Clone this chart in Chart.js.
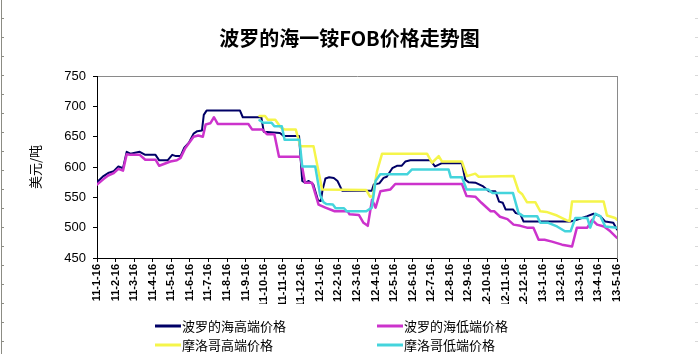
<!DOCTYPE html>
<html>
<head>
<meta charset="utf-8">
<script src="https://cdn.jsdelivr.net/npm/chart.js@4.4.1/dist/chart.umd.min.js"></script>
<style>
  html, body { margin: 0; padding: 0; background: #fff; }
  canvas { display: block; }
</style>
</head>
<body>
<canvas id="c" width="699" height="361"></canvas>
<script>
// ---- Data (x = month index from 11-1-16, y = USD/t) ----
const monthLabels = [
  '11-1-16','11-2-16','11-3-16','11-4-16','11-5-16','11-6-16','11-7-16','11-8-16','11-9-16','11-10-16','11-11-16','11-12-16',
  '12-1-16','12-2-16','12-3-16','12-4-16','12-5-16','12-6-16','12-7-16','12-8-16','12-9-16','12-10-16','12-11-16','12-12-16',
  '13-1-16','13-2-16','13-3-16','13-4-16','13-5-16'
];
const seriesNames = ['波罗的海高端价格', '波罗的海低端价格', '摩洛哥高端价格', '摩洛哥低端价格'];

const balticHigh = [
  [0,575],[0.35,585],[0.6,590],[0.9,593],[1.15,601],[1.4,598],[1.6,625],[1.8,622],[2.3,625],[2.6,620],
  [3.15,620],[3.35,611],[3.8,611],[4.05,620],[4.25,618],[4.5,618],[4.7,632],[4.95,640],[5.2,655],[5.4,659],
  [5.65,660],[5.75,686],[5.9,693],[7.7,693],[7.85,682],[8.85,682],[8.98,658],[9.85,656],[10.05,651],[10.88,651],
  [11.05,577],[11.2,574],[11.4,577],[11.65,571],[11.9,545],[12.05,544],[12.15,563],[12.3,581],[12.5,583],[12.75,582],[12.95,577],
  [13.2,561],[14.8,561],[14.9,571],[15.2,573],[15.43,582],[15.6,584],[15.9,598],[16.15,602],[16.4,602],[16.6,609],
  [16.87,611],[17.95,611],[18.2,601],[18.55,606],[19.65,606],[19.83,579],[20.0,575],[20.4,574],[20.8,568],[21.1,560],
  [21.45,560],[21.65,543],[21.85,541],[22.0,530],[22.4,530],[22.55,524],[22.8,522],[22.97,510],[25.48,510],[25.84,513],
  [26.4,519],[26.74,523],[27.1,519],[27.37,510],[27.8,508],[28,497]
];
const balticLow = [
  [0,571],[0.35,580],[0.6,586],[0.9,590],[1.15,597],[1.4,594],[1.6,621],[1.8,620],[2.3,620],[2.6,612],
  [3.15,612],[3.35,602],[3.6,605],[3.95,609],[4.3,611],[4.5,615],[4.75,631],[5.2,650],[5.45,652],[5.7,650],
  [5.85,670],[6.1,672],[6.3,682],[6.5,671],[8.15,671],[8.35,662],[8.9,662],[9.15,654],[9.55,654],[9.8,617],
  [10.95,617],[11.2,574],[11.58,574],[11.93,538],[12.3,533],[12.8,527],[13.5,527],[13.6,522],[14.1,521],[14.35,508],
  [14.58,503],[14.81,546],[15.0,533],[15.26,560],[15.8,563],[16.06,572],[19.65,572],[19.9,552],[20.37,551],[20.7,541],
  [21.2,527],[21.4,527],[21.7,518],[22.1,514],[22.43,505],[22.8,503],[23.15,500],[23.5,500],[23.78,480],[24.1,480],
  [24.5,477],[25.04,472],[25.58,469],[25.84,500],[26.4,500],[26.66,513],[26.93,505],[27.3,502],[27.64,494],[28,483]
];
const moroccoHigh = [
  [8.75,684],[9.05,684],[9.2,678],[9.6,678],[9.9,665],[10.1,662],[10.7,662],[10.95,634],[11.66,634],[12.12,563],
  [14.5,562],[14.7,551],[14.85,552],[15.08,593],[15.35,622],[17.77,622],[18.04,607],[18.4,618],[18.58,609],[19.65,609],
  [19.92,585],[20.37,589],[20.55,584],[22.43,585],[22.7,560],[22.9,555],[23.15,542],[23.6,542],[23.87,527],[24.2,526],
  [24.77,520],[25.3,512],[25.45,511],[25.58,543],[27.28,543],[27.46,520],[27.9,516],[28,513]
];
const moroccoLow = [
  [8.75,677],[8.95,673],[9.4,673],[9.55,667],[9.95,667],[10.1,645],[10.9,645],[11.05,601],[11.75,601],[12.02,553],
  [12.2,542],[12.35,539],[12.7,538],[12.85,532],[13.3,532],[13.45,527],[14.5,527],[14.8,533],[15.0,577],[15.25,588],
  [16.7,588],[16.96,596],[18.93,596],[19.05,583],[19.65,583],[19.9,563],[21.07,563],[21.3,557],[22.4,557],[22.7,524],
  [22.95,519],[23.7,519],[23.87,508],[24.3,508],[24.77,502],[25.2,494],[25.5,494],[25.76,516],[26.4,516],[26.56,500],
  [26.83,523],[27.1,519],[27.37,502],[28,500]
];

// ---- Styling ----
const CJK = '"Noto Sans CJK SC", "Noto Sans", sans-serif';
const LAT = '"Liberation Sans", Arial, sans-serif';
const colors = ['#000066', '#cc33cc', '#f5f54a', '#44d4dc'];
const widths = [2, 2.5, 2.5, 2.5];
const LABEL_CLIP_Y = 304;

const toPts = arr => arr.map(p => ({ x: p[0], y: p[1] }));
const allSeries = [balticHigh, balticLow, moroccoHigh, moroccoLow];

const frameDeco = {
  id: 'frameDeco',
  beforeDraw(chart) {
    const c = chart.ctx;
    c.save();
    c.fillStyle = '#ffffff';
    c.fillRect(0, 0, chart.width, chart.height);
    c.strokeStyle = '#8c8c84';
    c.lineWidth = 1;
    c.beginPath();
    c.moveTo(1.5, 0); c.lineTo(1.5, 354);
    for (let k = 0; k < 18; k++) {
      const y = 18.5 + 19 * k;
      c.moveTo(1.5, y); c.lineTo(4, y);
    }
    c.stroke();
    c.strokeStyle = '#d8d8d8';
    c.beginPath();
    for (let k = 0; k < 18; k++) {
      const y = 18.5 + 19 * k;
      c.moveTo(695, y); c.lineTo(698, y);
    }
    c.stroke();
    c.restore();
  },
  afterDatasetsDraw(chart) {
    const c = chart.ctx;
    c.save();
    c.beginPath();
    c.rect(0, 0, chart.width, LABEL_CLIP_Y);
    c.clip();
  },
  afterDraw(chart) {
    const c = chart.ctx;
    c.restore();
    // legend in a 2x2 grid, as in the source chart
    const cols = [155, 377], rows = [326, 345];
    c.save();
    c.font = '13px ' + CJK;
    c.textBaseline = 'middle';
    c.fillStyle = '#000';
    chart.data.datasets.forEach((ds, i) => {
      const x = cols[i % 2], y = rows[Math.floor(i / 2)];
      c.strokeStyle = ds.borderColor;
      c.lineWidth = 3;
      c.beginPath(); c.moveTo(x, y); c.lineTo(x + 26, y); c.stroke();
      c.fillText(ds.label, x + 27, y);
    });
    c.restore();
  }
};

new Chart(document.getElementById('c'), {
  type: 'line',
  data: {
    datasets: allSeries.map((s, i) => ({
      label: seriesNames[i],
      data: toPts(s),
      borderColor: colors[i],
      backgroundColor: colors[i],
      borderWidth: widths[i],
      pointRadius: 0,
      tension: 0,
      fill: false,
      order: 4 - i
    }))
  },
  options: {
    responsive: false,
    animation: false,
    events: [],
    layout: { padding: 0 },
    elements: { line: { borderJoinStyle: 'round', borderCapStyle: 'round' } },
    plugins: {
      legend: { display: false },
      tooltip: { enabled: false },
      title: {
        display: true,
        text: '波罗的海一铵FOB价格走势图',
        color: '#000',
        font: { family: CJK, size: 20, weight: 'bold', lineHeight: 1.2 },
        padding: { top: 26, bottom: 26 }
      }
    },
    scales: {
      x: {
        type: 'linear',
        position: 'bottom',
        min: 0, max: 28,
        ticks: {
          stepSize: 1, maxTicksLimit: 100, autoSkip: false,
          maxRotation: 90, minRotation: 90,
          callback: v => monthLabels[v],
          color: '#000',
          font: { family: LAT, size: 11, weight: 'bold' },
          padding: 2,
          z: 1
        },
        grid: { drawOnChartArea: false, drawTicks: true, tickLength: 4, color: '#000' },
        border: { color: '#000', width: 1 },
        afterFit: s => { s.height = 103; }
      },
      xTop: {
        type: 'linear',
        position: 'top',
        ticks: { display: false },
        grid: { display: false },
        border: { color: '#8a8a8a', width: 1 },
        afterFit: s => { s.height = 0; }
      },
      y: {
        min: 450, max: 750,
        ticks: { stepSize: 50, color: '#000', font: { family: LAT, size: 13 }, padding: 7 },
        grid: { drawOnChartArea: false, drawTicks: true, tickLength: 4, color: '#000' },
        border: { color: '#000', width: 1 },
        title: {
          display: true, text: '美元/吨', color: '#000',
          font: { family: CJK, size: 13, lineHeight: 1.2 },
          padding: { top: 27, bottom: 0 }
        },
        afterFit: s => { s.width = 97; }
      },
      yRight: {
        position: 'right',
        ticks: { display: false },
        grid: { display: false },
        border: { color: '#8a8a8a', width: 1 },
        afterFit: s => { s.width = 82; }
      }
    }
  },
  plugins: [frameDeco]
});
</script>
</body>
</html>
